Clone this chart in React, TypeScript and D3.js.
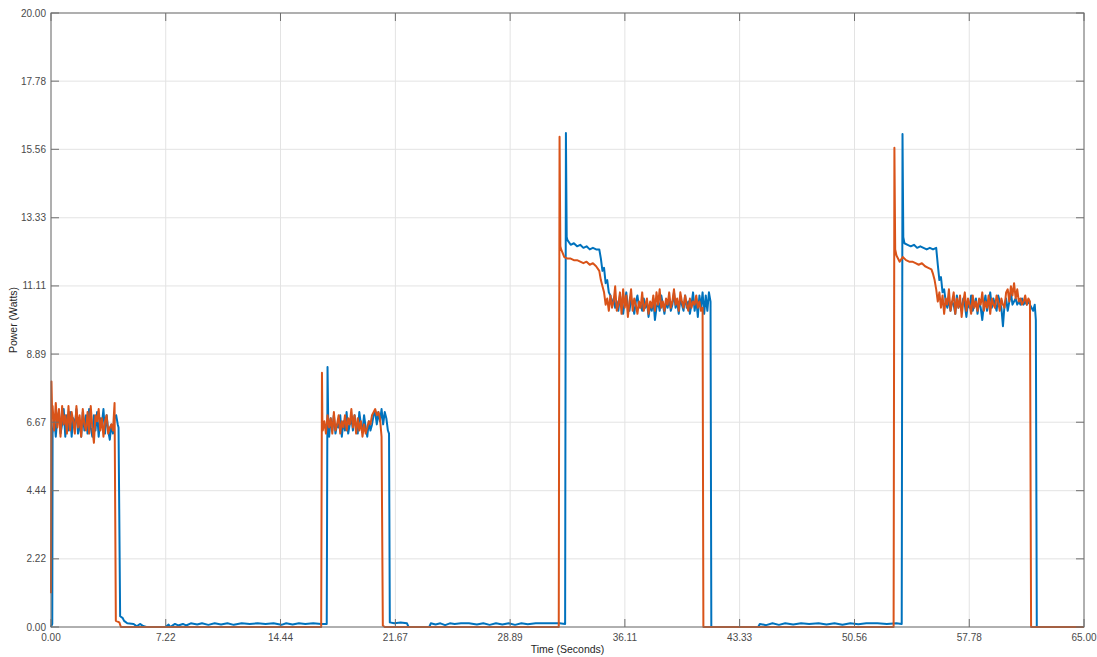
import React from "react";
import * as d3 from "d3";

// tick labels as printed on the figure
const xTickLabels = ["0.00", "7.22", "14.44", "21.67", "28.89", "36.11", "43.33", "50.56", "57.78", "65.00"];
const yTickLabels = ["0.00", "2.22", "4.44", "6.67", "8.89", "11.11", "13.33", "15.56", "17.78", "20.00"];

// ---- series 1 (blue) ----
const blueStart = [[0, 0], [0.08, 0.1]];
const blueRun1 = [6.3, 6.9, 6.2, 6.8, 7.0, 6.3, 6.6, 7.1, 6.2, 6.9, 6.4, 7.0, 6.2, 6.8, 6.5, 7.1, 6.3, 6.7, 6.2, 7.0,
  6.4, 6.9, 6.3, 7.1, 6.5, 6.2, 6.9, 6.4, 7.0, 6.2, 6.8, 6.6, 7.1, 6.3, 6.9, 6.4, 6.1, 6.6, 6.3, 6.8, 6.9, 6.6];
const blueIdle1 = [[4.25, 6.5], [4.35, 0.35], [4.5, 0.3], [4.6, 0.2], [4.8, 0.12], [5.2, 0.1], [5.4, 0.02], [5.6, 0.1],
  [5.8, 0.03], [6.0, 0], [7.2, 0], [7.4, 0.08], [7.5, 0], [7.8, 0.1], [8.0, 0.05], [8.3, 0.1], [8.5, 0.05], [8.8, 0.12],
  [9.2, 0.08], [9.5, 0.12], [9.9, 0.07], [10.3, 0.12], [10.7, 0.08], [11.1, 0.12], [11.5, 0.07], [12.0, 0.12],
  [12.5, 0.1], [13.0, 0.12], [13.5, 0.1], [14.0, 0.12], [14.5, 0.07], [14.8, 0.12], [15.2, 0.08], [15.6, 0.12],
  [16.0, 0.1], [16.5, 0.12], [17.0, 0.1], [17.35, 0.1], [17.4, 8.47], [17.45, 6.4]];
const blueRun2 = [6.2, 6.8, 6.4, 6.9, 6.3, 6.6, 6.5, 6.9, 6.2, 6.7, 6.4, 7.0, 6.3, 6.6, 6.8, 6.4, 6.9, 6.5, 6.3, 7.0,
  6.6, 6.4, 6.9, 6.5, 6.2, 6.7, 6.4, 6.6, 6.9, 7.0, 6.6, 7.0, 6.7, 7.1, 6.6, 7.0, 6.8];
const blueIdle2 = [[21.2, 6.4], [21.27, 6.3], [21.32, 0.15], [21.6, 0.12], [22.0, 0.15], [22.4, 0.12], [22.5, 0],
  [23.8, 0], [23.9, 0.12], [24.2, 0.08], [24.5, 0.12], [24.8, 0.06], [25.1, 0.12], [25.4, 0.1], [25.8, 0.12],
  [26.3, 0.12], [26.8, 0.08], [27.2, 0.12], [27.6, 0.07], [28.0, 0.12], [28.4, 0.08], [28.8, 0.12], [29.2, 0.07],
  [29.6, 0.12], [30.0, 0.09], [30.5, 0.12], [31.0, 0.12], [31.5, 0.12], [32.0, 0.12], [32.35, 0.1], [32.4, 16.09],
  [32.45, 12.7]];
const bluePlateau3 = [12.6, 12.45, 12.5, 12.4, 12.45, 12.35, 12.4, 12.3, 12.35, 12.3, 12.3];
const blueRun3 = [12.0, 11.6, 11.7, 11.2, 11.3, 10.9, 10.8, 10.5, 10.7, 10.4, 10.6, 10.3, 10.8, 10.5, 10.2, 10.6, 10.9,
  10.4, 10.3, 10.7, 10.5, 10.2, 10.6, 10.8, 10.4, 10.5, 10.3, 10.7, 10.4, 10.6, 10.1, 10.5, 10.3, 10.7, 10.0, 10.4,
  10.6, 10.3, 10.8, 10.5, 10.2, 10.6, 10.4, 10.7, 10.3, 10.5, 10.9, 10.4, 10.6, 10.2, 10.7, 10.5, 10.3, 10.8, 10.4,
  10.6, 10.2, 10.5, 10.9, 10.3, 10.7, 10.1, 10.8, 10.4, 10.9, 10.2, 10.8, 10.3, 10.9];
const blueIdle3 = [[41.5, 10.6], [41.55, 0], [44.5, 0], [44.6, 0.1], [45.0, 0.06], [45.4, 0.12], [45.8, 0.07],
  [46.2, 0.12], [46.7, 0.08], [47.2, 0.12], [47.7, 0.1], [48.3, 0.12], [48.8, 0.08], [49.3, 0.12], [49.8, 0.07],
  [50.3, 0.12], [50.8, 0.09], [51.3, 0.12], [52.0, 0.12], [52.6, 0.1], [53.2, 0.12], [53.53, 0.1], [53.58, 16.06],
  [53.63, 12.7]];
const bluePlateau4 = [12.5, 12.45, 12.4, 12.45, 12.35, 12.4, 12.35, 12.3, 12.35, 12.3, 12.35];
const blueRun4 = [11.8, 11.3, 11.4, 10.9, 11.0, 10.6, 10.4, 10.7, 10.3, 10.6, 10.5, 10.2, 10.8, 10.4, 10.6, 10.3, 10.7,
  10.5, 10.1, 10.6, 10.4, 10.8, 10.3, 10.5, 10.7, 10.2, 10.6, 10.4, 10.0, 10.5, 10.8, 10.3, 10.6, 10.9, 10.4, 10.7,
  10.5, 10.3, 10.8, 10.6, 10.4, 9.8, 10.5, 10.7, 10.3, 10.6, 10.9, 10.5, 10.6, 10.7, 10.5, 10.6, 10.5, 10.7, 10.5,
  10.6, 10.5, 10.6, 10.5, 10.4, 10.3, 10.5];
const blueEnd = [[61.97, 10.0], [62.03, 0], [65, 0]];

// ---- series 2 (orange) ----
const orangeStart = [[0, 1.1], [0.03, 8.0], [0.07, 7.0]];
const orangeRun1 = [7.2, 6.4, 7.3, 6.5, 7.1, 6.2, 7.2, 6.6, 6.9, 6.3, 7.2, 6.4, 7.0, 6.7, 6.3, 7.2, 6.5, 6.9, 6.2, 7.1,
  6.6, 6.4, 7.0, 6.3, 7.2, 6.5, 6.0, 6.9, 6.7, 7.1, 6.4, 6.8, 6.2, 6.7, 6.9, 6.3, 6.5, 6.6, 6.4, 7.3];
const orangeIdle1 = [[4.08, 0.2], [4.3, 0.15], [4.4, 0], [17.0, 0], [17.05, 8.28], [17.08, 6.5]];
const orangeRun2 = [6.4, 6.7, 6.3, 6.9, 6.5, 6.8, 6.3, 7.0, 6.4, 6.6, 6.9, 6.3, 6.7, 6.5, 6.9, 6.4, 6.8, 6.6, 7.1, 6.5,
  6.9, 6.3, 6.8, 6.4, 6.7, 6.2, 6.6, 6.3, 6.5, 6.7, 6.6, 6.9, 7.0, 7.1, 6.9, 7.0, 6.8, 6.2];
const orangeIdle2 = [[20.88, 0.05], [21.0, 0], [31.95, 0], [32.0, 15.97], [32.05, 12.4]];
const orangePlateau3 = [12.3, 12.05, 12.0, 12.0, 11.95, 11.95, 11.9, 11.85, 11.9, 11.8, 11.85, 11.75];
const orangeRun3 = [11.6, 11.3, 11.1, 10.9, 10.5, 10.7, 10.3, 10.8, 10.4, 10.6, 11.1, 10.3, 10.5, 10.9, 10.2, 11.0,
  10.4, 10.8, 10.1, 10.6, 11.0, 10.3, 10.7, 10.5, 10.2, 10.6, 10.4, 10.9, 10.3, 10.5, 10.7, 10.2, 10.6, 10.4, 10.8,
  10.3, 10.9, 10.5, 11.0, 10.4, 10.6, 10.3, 10.7, 10.5, 10.9, 10.4, 10.6, 11.0, 10.5, 10.7, 10.3, 10.9, 10.6, 10.4,
  10.8, 10.5, 10.3, 10.7, 10.4, 10.6, 10.5, 10.8, 10.4, 10.6, 10.3];
const orangeIdle3 = [[41.0, 10.4], [41.05, 0], [53.02, 0], [53.07, 15.61], [53.12, 12.3]];
const orangePlateau4 = [12.1, 11.9, 12.05, 11.95, 11.9, 11.9, 11.85, 11.8, 11.85, 11.75, 11.7, 11.65];
const orangeRun4 = [11.5, 11.3, 11.0, 10.6, 10.9, 10.4, 10.8, 10.2, 10.7, 10.5, 11.0, 10.3, 10.6, 10.9, 10.2, 10.7,
  10.4, 10.8, 10.1, 10.6, 10.9, 10.3, 10.7, 10.5, 10.2, 10.8, 10.4, 10.6, 10.3, 10.7, 10.5, 10.9, 10.3, 10.6, 10.4,
  10.8, 10.2, 10.7, 10.5, 10.4, 10.8, 10.6, 10.3, 10.7, 10.5, 10.4, 10.9, 11.0, 10.6, 11.1, 10.8, 11.2, 10.7, 11.0,
  10.6, 10.7, 10.5, 10.6, 10.8, 10.5, 10.7, 10.6];
const orangeEnd = [[61.67, 0], [65, 0]];

// sampled runs: first sample time and sample spacing
const sampled = (t0: number, dt: number, vals: number[]) => vals.map((v, i) => [t0 + i * dt, v]);

const blueData = [
  ...blueStart,
  ...sampled(0.1, 0.1, blueRun1),
  ...blueIdle1,
  ...sampled(17.5, 0.1, blueRun2),
  ...blueIdle2,
  ...sampled(32.5, 0.2, bluePlateau3),
  ...sampled(34.6, 0.1, blueRun3),
  ...blueIdle3,
  ...sampled(53.7, 0.2, bluePlateau4),
  ...sampled(55.8, 0.1, blueRun4),
  ...blueEnd,
];

const orangeData = [
  ...orangeStart,
  ...sampled(0.1, 0.1, orangeRun1),
  ...orangeIdle1,
  ...sampled(17.1, 0.1, orangeRun2),
  ...orangeIdle2,
  ...sampled(32.1, 0.2, orangePlateau3),
  ...sampled(34.5, 0.1, orangeRun3),
  ...orangeIdle3,
  ...sampled(53.2, 0.2, orangePlateau4),
  ...sampled(55.5, 0.1, orangeRun4),
  ...orangeEnd,
];

const W = 1097, H = 657;
const margin = { top: 13, right: 13, bottom: 30, left: 51 };
const font = "'Liberation Sans', Arial, Helvetica, sans-serif";

export default function App() {
  const x = d3.scaleLinear().domain([0, 65]).range([margin.left, W - margin.right]);
  const y = d3.scaleLinear().domain([0, 20]).range([H - margin.bottom, margin.top]);
  const line = d3.line<number[]>().x((d) => x(d[0])).y((d) => y(d[1]));

  const x0 = x.range()[0], x1 = x.range()[1];
  const y0 = y.range()[0], y1 = y.range()[1];
  const tickLen = 8;

  return (
    <svg width={W} height={H} style={{ position: "absolute", left: 0, top: 0, background: "#fff" }}>
      {/* grid */}
      <g stroke="#e3e3e3" strokeWidth={1}>
        {xTickLabels.map((t) => (
          <line key={"gx" + t} x1={x(+t)} x2={x(+t)} y1={y0} y2={y1} />
        ))}
        {yTickLabels.map((t) => (
          <line key={"gy" + t} x1={x0} x2={x1} y1={y(+t)} y2={y(+t)} />
        ))}
      </g>

      {/* data */}
      <path d={line(blueData) || ""} fill="none" stroke="#0072BD" strokeWidth={2} strokeLinejoin="round" />
      <path d={line(orangeData) || ""} fill="none" stroke="#D95319" strokeWidth={2} strokeLinejoin="round" />

      {/* box + inward ticks */}
      <g stroke="#6e6e6e" strokeWidth={1} fill="none">
        <rect x={x0} y={y1} width={x1 - x0} height={y0 - y1} />
        {xTickLabels.map((t) => (
          <g key={"tx" + t}>
            <line x1={x(+t)} x2={x(+t)} y1={y0} y2={y0 - tickLen} />
            <line x1={x(+t)} x2={x(+t)} y1={y1} y2={y1 + tickLen} />
          </g>
        ))}
        {yTickLabels.map((t) => (
          <g key={"ty" + t}>
            <line x1={x0} x2={x0 + tickLen} y1={y(+t)} y2={y(+t)} />
            <line x1={x1} x2={x1 - tickLen} y1={y(+t)} y2={y(+t)} />
          </g>
        ))}
      </g>

      {/* tick labels */}
      <g fontFamily={font} fontSize={10} fill="#4a4a4a">
        {xTickLabels.map((t) => (
          <text key={"lx" + t} x={x(+t)} y={y0 + 14} textAnchor="middle">{t}</text>
        ))}
        {yTickLabels.map((t) => (
          <text key={"ly" + t} x={x0 - 5} y={y(+t) + 3.5} textAnchor="end">{t}</text>
        ))}
      </g>

      {/* axis titles */}
      <text x={(x0 + x1) / 2} y={H - 4} textAnchor="middle" fontFamily={font} fontSize={10.5} fill="#262626">
        Time (Seconds)
      </text>
      <text
        transform={`translate(17,${(y0 + y1) / 2}) rotate(-90)`}
        textAnchor="middle"
        fontFamily={font}
        fontSize={10.5}
        fill="#262626"
      >
        Power (Watts)
      </text>
    </svg>
  );
}
